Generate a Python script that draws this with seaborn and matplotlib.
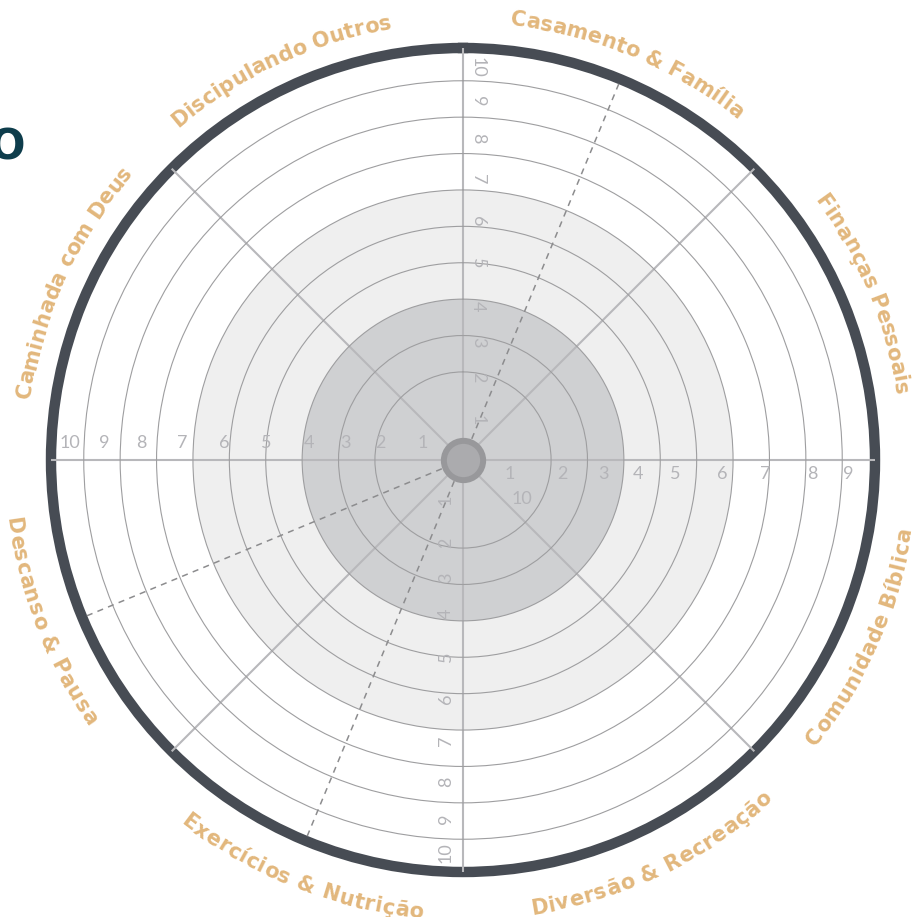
import numpy as np
import pandas as pd
import matplotlib
matplotlib.use("Agg")
import matplotlib.pyplot as plt
import seaborn as sns
from matplotlib.font_manager import FontProperties

# --- data -------------------------------------------------------------
categories = ["Casamento & Família", "Finanças Pessoais", "Comunidade Bíblica",
              "Diversão & Recreação", "Exercícios & Nutrição", "Descanso & Pausa",
              "Caminhada com Deus", "Discipulando Outros"]
scores = [1, 2, 3, 4, 5, 6, 7, 8, 9, 10]
ring_scores = [2, 3, 4, 5, 6, 7, 8, 9, 10]
inner_zone = 4      # dark band up to this score
middle_zone = 7     # light band up to this score
dashed_guides = ["Casamento & Família", "Exercícios & Nutrição", "Descanso & Pausa"]
title_fragment = "O"

# --- layout -----------------------------------------------------------
R_MAX = 10.9          # outer thick ring
R_ORIGIN = -0.42
label_r_main = [0.68, 1.86, 2.82, 3.81, 4.99, 6.15, 7.3, 8.43, 9.44, 10.38]
label_r_right = [0.87, 2.3, 3.43, 4.39, 5.4, 6.7, 7.88, 9.17, 10.16]
label_shift = {"Discipulando Outros": -2.5, "Diversão & Recreação": -3,
               "Exercícios & Nutrição": -1, "Caminhada com Deus": 2,
               "Comunidade Bíblica": 1.5, "Descanso & Pausa": 1.2}
label_radius_adj = {"Comunidade Bíblica": -6}

GOLD = "#E2B77C"
RING_DARK = "#474C54"
NUM_GRAY = "#B4B4B8"

sns.set_style("white")
fig = plt.figure(figsize=(9.15, 9.17), dpi=100)
ax = fig.add_axes([51 / 915, 45 / 917, 824 / 915, 824 / 917], projection="polar")
ax.set_theta_zero_location("N")
ax.set_theta_direction(-1)
ax.set_ylim(0, R_MAX)
ax.set_rorigin(R_ORIGIN)

# shaded zones
ax.bar(0, middle_zone, width=2 * np.pi, bottom=0, color="#EFEFEF", linewidth=0, zorder=0.6)
ax.bar(0, inner_zone, width=2 * np.pi, bottom=0, color="#CFD0D2", linewidth=0, zorder=0.7)

# rings and spokes
ax.set_axisbelow(False)
ax.set_rgrids(ring_scores, labels=[""] * len(ring_scores))
ax.set_thetagrids(np.arange(0, 360, 45), labels=[""] * 8)
ax.yaxis.grid(True, color="#9E9EA0", linewidth=0.8)
ax.xaxis.grid(True, color="#B8B8BB", linewidth=1.5)
ax.tick_params(length=0)
ax.spines["polar"].set_color(RING_DARK)
ax.spines["polar"].set_linewidth(7.5)

# dashed guides
cat_angle = {c: 22.5 + 45 * i for i, c in enumerate(categories)}
rows = []
for seg, name in enumerate(dashed_guides):
    a = np.radians(cat_angle[name])
    rows.append({"seg": seg, "theta": a, "r": R_ORIGIN})
    rows.append({"seg": seg, "theta": a, "r": R_MAX})
guides = pd.DataFrame(rows)
sns.lineplot(data=guides, x="theta", y="r", units="seg", estimator=None, sort=False,
             ax=ax, color="#8C8C8E", linewidth=1.1, linestyle=(0, (4, 3.5)), zorder=3)
ax.set_xlabel("")
ax.set_ylabel("")

# hub
ax.scatter([0], [R_ORIGIN], s=800, color="#ABABAE", edgecolor="#98989B",
           linewidth=4.3, zorder=6, clip_on=False)

# score numbers on the four axes
num_font = dict(color=NUM_GRAY, fontsize=13, family=["Lato", "DejaVu Sans"], weight="normal",
                ha="center", va="center", textcoords="offset pixels", zorder=5,
                annotation_clip=False)
for s, r in zip(scores, label_r_main):
    ax.annotate(str(s), (np.radians(270), r), xytext=(0, 17), **num_font)
    ax.annotate(str(s), (0, r), xytext=(15, 0), rotation=-90, **num_font)
    ax.annotate(str(s), (np.radians(180), r), xytext=(-17, 0), rotation=90, **num_font)
for s, r in zip(scores, label_r_right):
    ax.annotate(str(s), (np.radians(90), r), xytext=(0, -14), **num_font)
ax.annotate(str(scores[-1]), (np.radians(125.5), 1.48), **num_font)

# curved category labels
fig.canvas.draw()
renderer = fig.canvas.get_renderer()
cat_fp = FontProperties(family="DejaVu Sans", weight="bold", size=15)
px_per_unit = 412 / (R_MAX - R_ORIGIN)


def char_width(ch):
    t1 = fig.text(0, 0, "|" + ch + "|", fontproperties=cat_fp)
    t2 = fig.text(0, 0, "||", fontproperties=cat_fp)
    w = t1.get_window_extent(renderer).width - t2.get_window_extent(renderer).width
    t1.remove()
    t2.remove()
    return w


def curved_label(text, center_deg, radius_adj=0, track=0.3):
    upper = np.cos(np.radians(center_deg)) > 0
    base_px = (437 if upper else 460) + radius_adj
    mid_px = 447
    widths = [char_width(ch) for ch in text]
    total = sum(widths) + track * (len(widths) - 1)
    pos = -total / 2
    for ch, w in zip(text, widths):
        d = np.degrees((pos + w / 2) / mid_px)
        if upper:
            phi = center_deg + d
            rot = -phi
        else:
            phi = center_deg - d
            rot = 180 - phi
        ax.text(np.radians(phi), base_px / px_per_unit + R_ORIGIN, ch, fontproperties=cat_fp,
                color=GOLD, rotation=rot, rotation_mode="anchor", ha="center", va="baseline",
                clip_on=False, zorder=7)
        pos += w + track


for c in categories:
    curved_label(c, cat_angle[c] + label_shift.get(c, 0), label_radius_adj.get(c, 0))

fig.text(25 / 915, 1 - 148 / 917, title_fragment, ha="right", va="center", fontsize=30,
         weight="bold", color="#0E3D4C")

fig.savefig("out.png", dpi=100)
